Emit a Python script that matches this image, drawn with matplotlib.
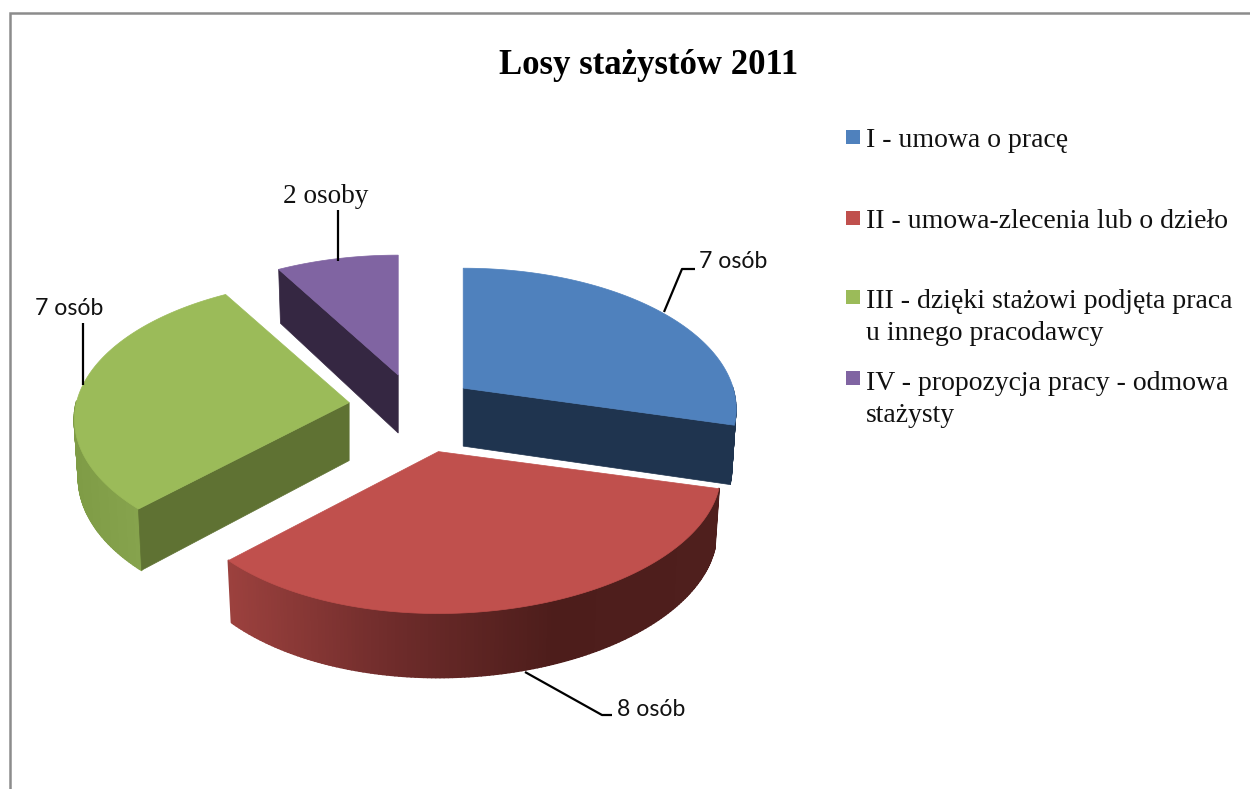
import numpy as np
import matplotlib
matplotlib.use('Agg')
import matplotlib.pyplot as plt
from matplotlib.collections import PolyCollection
from matplotlib.colors import to_rgb

# Data
title = 'Losy stażystów 2011'
categories = ['I - umowa o pracę',
              'II - umowa-zlecenia lub o dzieło',
              'III - dzięki stażowi podjęta praca\nu innego pracodawcy',
              'IV - propozycja pracy - odmowa\nstażysty']
values = [7, 8, 7, 2]
value_labels = ['7 osób', '8 osób', '7 osób', '2 osoby']

# Colours of the top, the cut wall and the rim (left to right along the rim)
top_colors = ['#4f81bd', '#c0504d', '#9bbb59', '#8064a2']
wall_colors = ['#1f344f', '#4f1f1d', '#5f7233', '#352742']
rim_colors = [['#1f344f', '#1f344f'],
              ['#9c413e', '#6f2c2b', '#4d1d1b', '#4f1f1d'],
              ['#7f9c46', '#86a34d'],
              ['#352742', '#352742']]

# Pie geometry, in pixels of the figure
explode = [0.225, 0.335, 0.246, 0.24]
center = (415, 407)
radius_x = 270
radius_y = 137.8
persp = [0.149, 0.149, 0.12, 0.149]
radius_scale = [1.0, 1.005, 1.01, 1.0]
skew = [0, 0.03, 0, 0]
rim_lw = [0.4, 1.4, 1.4, 0.4]
depth = 58

fig = plt.figure(figsize=(12.5, 7.89), dpi=100, facecolor='white')
ax = fig.add_axes([0, 0, 1, 1])
ax.set_xlim(0, 1250)
ax.set_ylim(789, 0)
ax.axis('off')

# Chart frame, cut by the screenshot on the right and at the bottom
ax.plot([10, 10, 1250], [789, 13, 13], color='#8c8c8c', lw=1.8, solid_joinstyle='miter')


def project(i, apex, theta, bottom=False):
    v = -np.cos(theta)
    s = 1 / (1 - persp[i] * v)
    shrink = 0.985 if bottom else 1.0
    sx = radius_x * radius_scale[i] * (1 + skew[i] * np.sin(theta))
    x = apex[0] + sx * shrink * np.sin(theta) * s
    y = apex[1] + radius_y * v * s
    if bottom:
        y = y + depth * s ** 0.6
    return x, y


def rim_color(stops, frac):
    rgb = np.array([to_rgb(c) for c in stops])
    pos = np.linspace(0, 1, len(stops))
    return [np.interp(frac, pos, rgb[:, i]) for i in range(3)]


shares = np.array(values) / sum(values) * 2 * np.pi
ends = np.cumsum(shares)
starts = ends - shares

slices = []
for i in range(len(values)):
    mid = (starts[i] + ends[i]) / 2
    apex = (center[0] + explode[i] * radius_x * np.sin(mid),
            center[1] - explode[i] * radius_y * np.cos(mid))
    slices.append((i, apex))

# Back slices first so the front ones cover them
for i, apex in [slices[3], slices[2], slices[0], slices[1]]:
    t0, t1 = starts[i], ends[i]
    th = np.linspace(t0, t1, 160)
    tx, ty = project(i, apex, th)
    bx, by = project(i, apex, th, bottom=True)
    z = 2 + i

    # Rim, only the part turned towards the viewer
    vis = np.where(np.cos(th) <= 0.02)[0]
    if len(vis) > 1:
        polys = []
        cols = []
        xmin, xmax = tx[vis].min(), tx[vis].max()
        for a, b in zip(vis[:-1], vis[1:]):
            polys.append([(tx[a], ty[a]), (tx[b], ty[b]), (bx[b], by[b]), (bx[a], by[a])])
            cols.append(rim_color(rim_colors[i], (tx[a] - xmin) / (xmax - xmin)))
        ax.add_collection(PolyCollection(polys, facecolors=cols, edgecolors=cols, linewidths=rim_lw[i], zorder=z))

    # Walls of the cut: blue and green show their front cut, purple its left one
    wall_t = {0: t1, 2: t0, 3: t0}
    if i in wall_t:
        px, py = project(i, apex, wall_t[i])
        qx, qy = project(i, apex, wall_t[i], bottom=True)
        ax.fill([apex[0], px, qx, apex[0]], [apex[1], py, qy, apex[1] + depth],
                color=wall_colors[i], lw=0.5, zorder=z + 0.2)

    # Top face
    ax.fill(np.r_[apex[0], tx], np.r_[apex[1], ty], color=top_colors[i], lw=0.5, zorder=z + 0.5)

# Title
ax.text(649, 74, title, family='Liberation Serif', weight='bold', fontsize=25,
        ha='center', va='baseline', color='black', zorder=10)

# Legend
legend_y = [137, 218, 297, 378]
legend_base = [147, 228, 308, 390]
for i, cat in enumerate(categories):
    ax.fill([846, 860, 860, 846], [legend_y[i] - 7, legend_y[i] - 7, legend_y[i] + 7, legend_y[i] + 7],
            color=top_colors[i], lw=0, zorder=10)
    for j, line in enumerate(cat.split('\n')):
        ax.text(866, legend_base[i] + j * 32, line, family='Liberation Serif', fontsize=20,
                ha='left', va='baseline', color='#111111', zorder=10)

# Value labels with their leader lines
label_pos = [(699, 268), (617, 716), (35, 315), (283, 203)]
label_font = ['Lato', 'Lato', 'Lato', 'Liberation Serif']
label_size = [16.6, 16.6, 16.6, 19.6]
leader_x = [[664, 682, 695], [525, 602, 612], [83, 83], [338, 338]]
leader_y = [[312, 269, 269], [672, 715, 715], [323, 385], [210, 261]]
for i in range(4):
    ax.text(label_pos[i][0], label_pos[i][1], value_labels[i], family=label_font[i],
            fontsize=label_size[i], ha='left', va='baseline', color='#111111', zorder=10)
    ax.plot(leader_x[i], leader_y[i], color='black', lw=1.6, zorder=9, solid_capstyle='butt')

fig.savefig('out.png', dpi=100)
